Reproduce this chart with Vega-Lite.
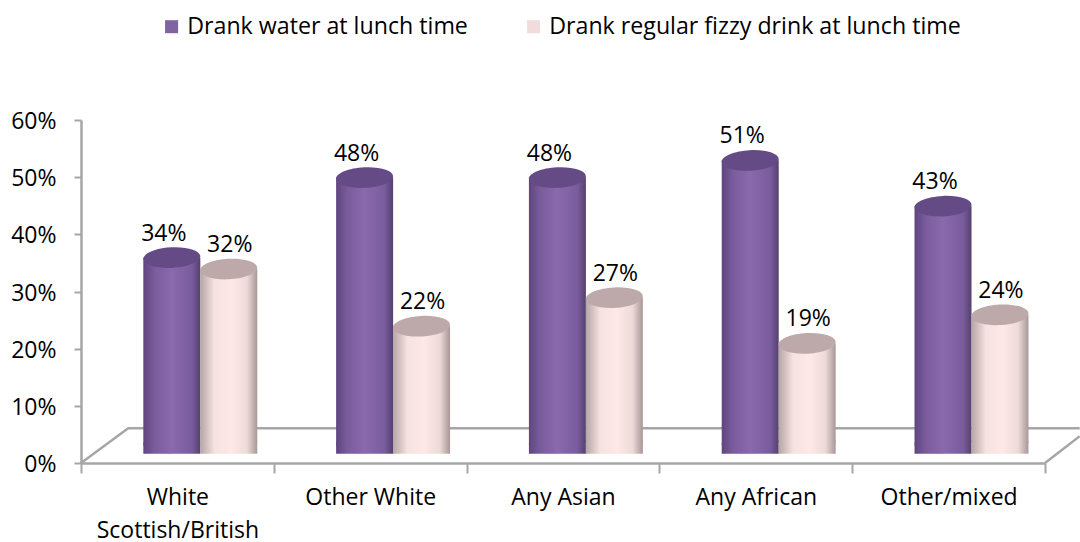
{"$schema":"https://vega.github.io/schema/vega-lite/v6.json","width":964,"height":343,"autosize":"none","padding":{"left":81,"top":120,"right":35,"bottom":79},"background":"white","config":{"view":{"stroke":null},"font":"Open Sans"},
"datasets":{"bars":[
{"group":"White Scottish/British","series":"Drank water at lunch time","value":0.34},
{"group":"White Scottish/British","series":"Drank regular fizzy drink at lunch time","value":0.32},
{"group":"Other White","series":"Drank water at lunch time","value":0.48},
{"group":"Other White","series":"Drank regular fizzy drink at lunch time","value":0.22},
{"group":"Any Asian","series":"Drank water at lunch time","value":0.48},
{"group":"Any Asian","series":"Drank regular fizzy drink at lunch time","value":0.27},
{"group":"Any African","series":"Drank water at lunch time","value":0.51},
{"group":"Any African","series":"Drank regular fizzy drink at lunch time","value":0.19},
{"group":"Other/mixed","series":"Drank water at lunch time","value":0.43},
{"group":"Other/mixed","series":"Drank regular fizzy drink at lunch time","value":0.24}],
"floor":[
{"edge":"a","step":1,"fx":0,"fy":0},{"edge":"a","step":2,"fx":0.049,"fy":0.061},{"edge":"a","step":3,"fx":1.036,"fy":0.061},
{"edge":"b","step":1,"fx":1,"fy":0},{"edge":"b","step":2,"fx":1.036,"fy":0.047}]},
"layer":[
{"data":{"name":"floor"},"mark":{"type":"line","stroke":"#a6a6a6","strokeWidth":2.5},"encoding":{"x":{"field":"fx","type":"quantitative","scale":{"domain":[0,1],"nice":false,"zero":false},"axis":null},"y":{"field":"fy","type":"quantitative"},"detail":{"field":"edge"},"order":{"field":"step"}}},
{"data":{"name":"bars"},
"encoding":{
"x":{"field":"group","type":"nominal","sort":null,"title":null,"scale":{"paddingInner":0,"paddingOuter":0},
"axis":{"title":null,"labelAngle":0,"labelFontSize":23,"labelColor":"#000","labelFont":"Open Sans","labelPadding":13,"labelLineHeight":33,"labelLimit":300,"domainColor":"#a6a6a6","domainWidth":2.5,"tickColor":"#a6a6a6","tickWidth":2,"tickSize":10,"tickBand":"extent","labelExpr":"datum.label=='White Scottish/British'?['White','Scottish/British']:datum.label"}},
"xOffset":{"field":"series","type":"nominal","sort":["Drank water at lunch time","Drank regular fizzy drink at lunch time"],"scale":{"paddingInner":0,"paddingOuter":0.693,"align":0.79}},
"y":{"field":"value","type":"quantitative","title":null,"scale":{"domain":[0,0.6],"nice":false},
"axis":{"format":".0%","values":[0,0.1,0.2,0.3,0.4,0.5,0.6],"grid":false,"labelFontSize":23,"labelColor":"#000","labelFont":"Open Sans","labelPadding":18,"labelOffset":1.5,"domainColor":"#a6a6a6","domainWidth":2.5,"tickColor":"#a6a6a6","tickWidth":2,"tickSize":7}}},
"layer":[
{"mark":{"type":"point","filled":true,"size":0,"opacity":1,"shape":"square"},"encoding":{"color":{"field":"series","type":"nominal","sort":["Drank water at lunch time","Drank regular fizzy drink at lunch time"],"scale":{"domain":["Drank water at lunch time","Drank regular fizzy drink at lunch time"],"range":["#8064a2","#f2dcdb"]},"legend":{"orient":"none","legendX":79,"legendY":-105,"direction":"horizontal","columns":2,"columnPadding":54,"title":null,"symbolType":"square","symbolSize":170,"symbolStrokeWidth":0,"labelFontSize":23.2,"labelFont":"Open Sans","labelColor":"#000","labelOffset":4,"labelLimit":600,"symbolOpacity":1}}}},
{"transform":[{"filter":"datum.series=='Drank water at lunch time'"}],"layer":[
{"mark":{"type":"point","filled":true,"opacity":1,"size":3249,"shape":"M-1,0.05A1,0.36,-3,1,1,1,-0.05A1,0.36,-3,1,1,-1,0.05Z","yOffset":-20,"fill":{"x1":0,"y1":0,"x2":1,"y2":0,"gradient":"linear","stops":[{"offset":0,"color":"#5f4580"},{"offset":0.5,"color":"#8a69ac"},{"offset":1,"color":"#5c4479"}]}},"encoding":{"y":{"datum":0}}},
{"mark":{"type":"bar","width":57,"yOffset":-11,"fill":{"x1":0,"y1":0,"x2":1,"y2":0,"gradient":"linear","stops":[{"offset":0,"color":"#5f4580"},{"offset":0.2,"color":"#7a5c9c"},{"offset":0.5,"color":"#8a69ac"},{"offset":0.85,"color":"#795c9d"},{"offset":1,"color":"#56406f"}]}},"encoding":{"y2":{"datum":0.016}}},
{"mark":{"type":"point","filled":true,"opacity":1,"size":3249,"shape":"M-1,0.05A1,0.36,-3,1,1,1,-0.05A1,0.36,-3,1,1,-1,0.05Z","yOffset":-11,"fill":"#654b85"}},
{"mark":{"type":"text","fontSize":23,"font":"Open Sans","color":"#000","dx":-8,"yOffset":-35},"encoding":{"text":{"field":"value","type":"quantitative","format":".0%"}}}
]},
{"transform":[{"filter":"datum.series=='Drank regular fizzy drink at lunch time'"}],"layer":[
{"mark":{"type":"point","filled":true,"opacity":1,"size":3249,"shape":"M-1,0.05A1,0.36,-3,1,1,1,-0.05A1,0.36,-3,1,1,-1,0.05Z","yOffset":-20,"fill":{"x1":0,"y1":0,"x2":1,"y2":0,"gradient":"linear","stops":[{"offset":0,"color":"#b5a5a5"},{"offset":0.3,"color":"#f8e4e3"},{"offset":0.7,"color":"#fde7e6"},{"offset":1,"color":"#a89797"}]}},"encoding":{"y":{"datum":0}}},
{"mark":{"type":"bar","width":57,"yOffset":-11,"fill":{"x1":0,"y1":0,"x2":1,"y2":0,"gradient":"linear","stops":[{"offset":0,"color":"#b5a5a5"},{"offset":0.25,"color":"#f5e2e1"},{"offset":0.55,"color":"#ffe8e7"},{"offset":0.82,"color":"#ecdad9"},{"offset":1,"color":"#a89797"}]}},"encoding":{"y2":{"datum":0.016}}},
{"mark":{"type":"point","filled":true,"opacity":1,"size":3249,"shape":"M-1,0.05A1,0.36,-3,1,1,1,-0.05A1,0.36,-3,1,1,-1,0.05Z","yOffset":-11,"fill":"#bda9a9"}},
{"mark":{"type":"text","fontSize":23,"font":"Open Sans","color":"#000","dx":1,"yOffset":-35},"encoding":{"text":{"field":"value","type":"quantitative","format":".0%"}}}
]}
]}
],
"resolve":{"scale":{"x":"independent"},"axis":{"x":"independent"}}}
